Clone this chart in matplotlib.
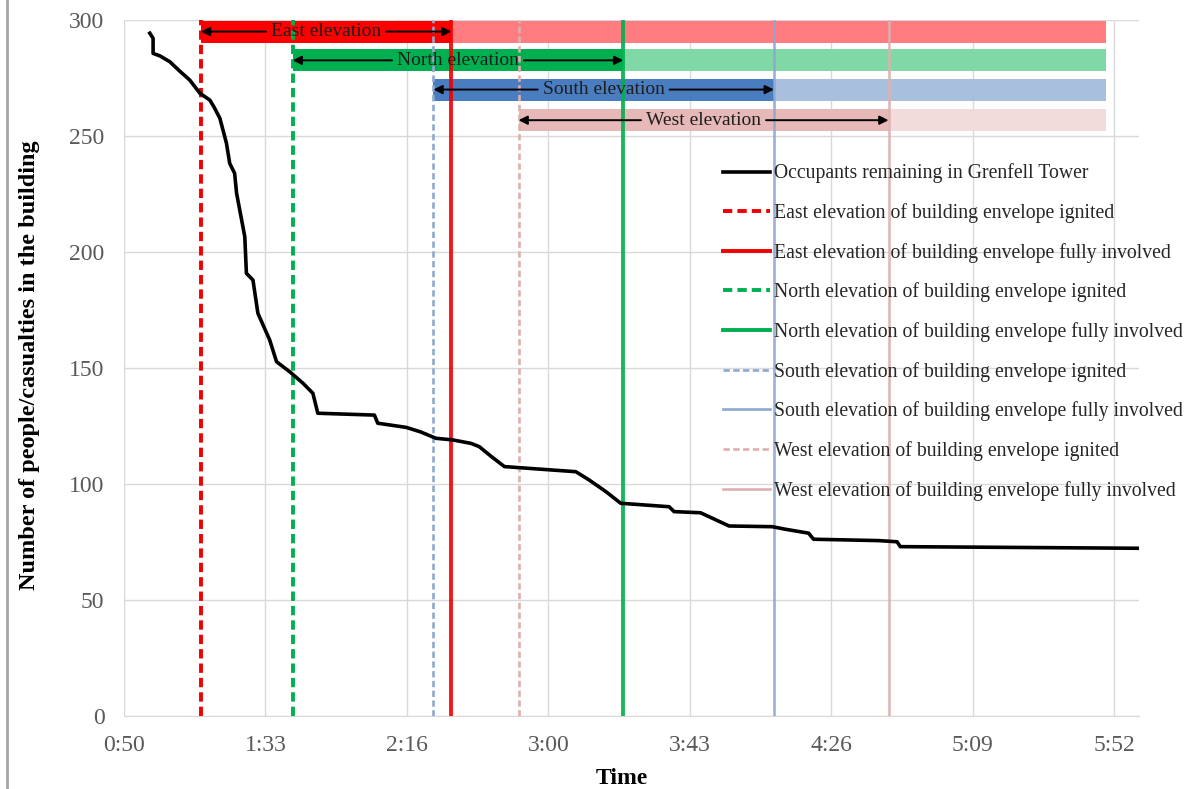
import matplotlib
matplotlib.use('Agg')
import matplotlib.pyplot as plt
from matplotlib.lines import Line2D

plt.rcParams['font.family'] = ['Liberation Serif', 'DejaVu Serif']

# occupants remaining, time in minutes after midnight
time_min = [57.9, 58.9, 58.9, 61.0, 64.0, 67.0, 70.1, 73.2, 76.2, 77.5, 79.3, 81.3, 82.3,
            83.8, 84.4, 86.9, 87.4, 89.4, 90.9, 94.5, 96.6, 100.6, 104.7, 107.7, 109.2,
            126.5, 127.5, 136.2, 140.5, 145.3, 150.4, 156.0, 158.5, 162.5, 166.2, 188.0,
            192.1, 197.2, 201.7, 216.5, 218.0, 226.1, 234.8, 248.0, 252.0, 259.1, 260.6,
            280.5, 286.1, 287.1, 359.8]
occupants = [294.3, 292.1, 285.6, 284.5, 282.0, 278.0, 274.1, 268.4, 265.5, 262.5, 257.6,
             246.9, 238.2, 233.9, 225.3, 206.6, 190.8, 187.9, 173.6, 162.1, 152.7, 148.4,
             143.4, 139.1, 130.5, 129.7, 126.2, 124.4, 122.5, 119.7, 119.0, 117.5, 116.1,
             111.5, 107.5, 105.3, 101.7, 96.7, 91.7, 90.2, 88.1, 87.6, 81.9, 81.6, 80.5,
             78.8, 76.2, 75.6, 75.1, 73.0, 72.3]

elevations = ['East', 'North', 'South', 'West']
ignited = [73.5, 101.5, 144.5, 170.5]
fully_involved = [150.0, 202.5, 248.5, 283.5]
band_end = 350.0
band_y = [295.0, 282.6, 270.0, 256.8]

line_colors = ['#F00000', '#00B050', '#8EA9CF', '#DDB0AF']
dark_colors = ['#FF0000', '#00B050', '#4A7CC0', '#E6B9B8']
light_colors = ['#FF7C80', '#7FD8A6', '#A8C0DE', '#F2DCDB']

xticks = [50, 93.2, 136.4, 179.6, 222.8, 266.0, 309.2, 352.4]
xtick_labels = ['0:50', '1:33', '2:16', '3:00', '3:43', '4:26', '5:09', '5:52']
yticks = [0, 50, 100, 150, 200, 250, 300]

fig = plt.figure(figsize=(11.85, 7.89), dpi=100)
ax = fig.add_axes([0.1046, 0.0925, 0.8566, 0.8822])
ax.set_xlim(50, 360)
ax.set_ylim(0, 300)

for i in range(4):
    w = 2.8 if i < 2 else 1.9
    ax.axvline(ignited[i], color=line_colors[i], lw=w, ls=(0, (2.4, 1.3)), zorder=4)
    ax.axvline(fully_involved[i], color=line_colors[i], lw=w, zorder=4, alpha=0.9)

labels_in_bars = []
for i in range(4):
    ax.barh(band_y[i], fully_involved[i] - ignited[i], left=ignited[i], height=9.5,
            color=dark_colors[i], zorder=3)
    ax.barh(band_y[i], band_end - fully_involved[i], left=fully_involved[i], height=9.5,
            color=light_colors[i], zorder=3)
    t = ax.text((ignited[i] + fully_involved[i]) / 2, band_y[i], elevations[i] + ' elevation',
                ha='center', va='center', fontsize=14, color='#1e1e1e', zorder=6)
    labels_in_bars.append(t)

# arrows stop short of the label text, like the original
fig.canvas.draw()
renderer = fig.canvas.get_renderer()
inv = ax.transData.inverted()
for i, t in enumerate(labels_in_bars):
    bb = t.get_window_extent(renderer)
    x0 = inv.transform((bb.x0 - 5, bb.y0))[0]
    x1 = inv.transform((bb.x1 + 5, bb.y0))[0]
    ax.annotate('', xy=(ignited[i], band_y[i]), xytext=(x0, band_y[i]),
                arrowprops=dict(arrowstyle='-|>', color='black', lw=1.4,
                                shrinkA=0, shrinkB=0, mutation_scale=13), zorder=5)
    ax.annotate('', xy=(fully_involved[i], band_y[i]), xytext=(x1, band_y[i]),
                arrowprops=dict(arrowstyle='-|>', color='black', lw=1.4,
                                shrinkA=0, shrinkB=0, mutation_scale=13), zorder=5)

ax.plot(time_min, occupants, color='black', lw=2.6, zorder=5)

ax.set_xticks(xticks)
ax.set_xticklabels(xtick_labels)
ax.set_yticks(yticks)
ax.grid(True, color='#D9D9D9', lw=1)
ax.set_axisbelow(True)
for s in ['top', 'right', 'left']:
    ax.spines[s].set_visible(False)
ax.spines['bottom'].set_color('#D9D9D9')
ax.tick_params(length=0, labelsize=17, labelcolor='#595959', pad=14)
ax.set_xlabel('Time', fontsize=17, fontweight='bold')
ax.xaxis.set_label_coords(0.49, -0.074)
ax.set_ylabel('Number of people/casualties in the building', fontsize=17.5,
              fontweight='bold')
ax.yaxis.set_label_coords(-0.083, 0.504)

handles = [Line2D([], [], color='black', lw=2.6)]
labels = ['Occupants remaining in Grenfell Tower']
for i in range(4):
    w = 2.8 if i < 2 else 1.9
    handles.append(Line2D([], [], color=line_colors[i], lw=w, ls=(0, (2.4, 1.3))))
    labels.append(elevations[i] + ' elevation of building envelope ignited')
    handles.append(Line2D([], [], color=line_colors[i], lw=w))
    labels.append(elevations[i] + ' elevation of building envelope fully involved')
leg = ax.legend(handles, labels, loc='upper left', bbox_to_anchor=(0.582, 0.805),
                frameon=False, fontsize=14.2, labelspacing=1.0, handlelength=2.4,
                handletextpad=0.2, borderaxespad=0)
for t in leg.get_texts():
    t.set_color('#262626')
leg.set_zorder(7)

fig.add_artist(Line2D([0.006, 0.006], [0, 1], transform=fig.transFigure,
                      color='#A6A6A6', lw=2))

fig.savefig('out.png', dpi=100)
